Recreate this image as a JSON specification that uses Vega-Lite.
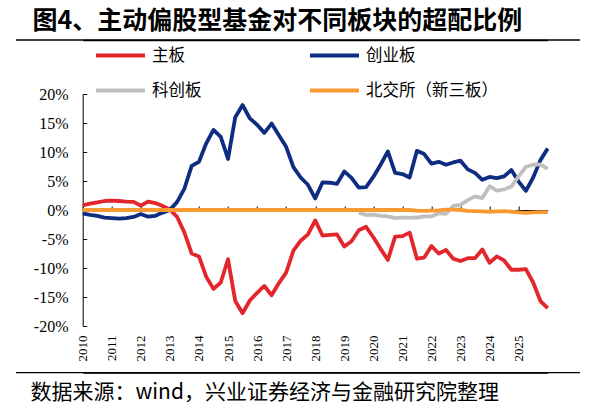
{
  "$schema": "https://vega.github.io/schema/vega-lite/v6.json",
  "autosize": {"type": "none"},
  "width": 465,
  "height": 232,
  "padding": {"left": 82.7, "top": 94, "right": 43.3, "bottom": 86},
  "background": "white",
  "config": {"view": {"stroke": null}, "font": "Noto Sans CJK SC"},
  "datasets": {"main": [
    {"t": 2010, "主板": 0.8, "创业板": -0.6, "北交所（新三板）": 0},
    {"t": 2010.25, "主板": 1.1, "创业板": -0.85, "北交所（新三板）": 0},
    {"t": 2010.5, "主板": 1.3, "创业板": -1.0, "北交所（新三板）": 0},
    {"t": 2010.75, "主板": 1.55, "创业板": -1.3, "北交所（新三板）": 0},
    {"t": 2011, "主板": 1.6, "创业板": -1.4, "北交所（新三板）": 0},
    {"t": 2011.25, "主板": 1.55, "创业板": -1.5, "北交所（新三板）": 0},
    {"t": 2011.5, "主板": 1.45, "创业板": -1.4, "北交所（新三板）": 0},
    {"t": 2011.75, "主板": 1.4, "创业板": -1.2, "北交所（新三板）": 0},
    {"t": 2012, "主板": 0.75, "创业板": -0.7, "北交所（新三板）": 0},
    {"t": 2012.25, "主板": 1.45, "创业板": -1.15, "北交所（新三板）": 0},
    {"t": 2012.5, "主板": 1.2, "创业板": -1.0, "北交所（新三板）": 0},
    {"t": 2012.75, "主板": 0.7, "创业板": -0.45, "北交所（新三板）": 0},
    {"t": 2013, "主板": 0.05, "创业板": 0.0, "北交所（新三板）": 0},
    {"t": 2013.25, "主板": -1.2, "创业板": 1.4, "北交所（新三板）": 0},
    {"t": 2013.5, "主板": -3.9, "创业板": 3.7, "北交所（新三板）": 0},
    {"t": 2013.75, "主板": -7.5, "创业板": 7.6, "北交所（新三板）": 0},
    {"t": 2014, "主板": -8.0, "创业板": 8.3, "北交所（新三板）": 0},
    {"t": 2014.25, "主板": -11.5, "创业板": 11.5, "北交所（新三板）": 0},
    {"t": 2014.5, "主板": -13.6, "创业板": 13.8, "北交所（新三板）": 0},
    {"t": 2014.75, "主板": -12.5, "创业板": 12.6, "北交所（新三板）": 0},
    {"t": 2015, "主板": -8.5, "创业板": 8.8, "北交所（新三板）": 0},
    {"t": 2015.25, "主板": -15.7, "创业板": 16.0, "北交所（新三板）": 0},
    {"t": 2015.5, "主板": -17.8, "创业板": 18.1, "北交所（新三板）": 0},
    {"t": 2015.75, "主板": -15.6, "创业板": 15.8, "北交所（新三板）": 0},
    {"t": 2016, "主板": -14.3, "创业板": 14.7, "北交所（新三板）": 0},
    {"t": 2016.25, "主板": -13.1, "创业板": 13.3, "北交所（新三板）": 0},
    {"t": 2016.5, "主板": -14.7, "创业板": 14.9, "北交所（新三板）": 0},
    {"t": 2016.75, "主板": -12.6, "创业板": 12.9, "北交所（新三板）": 0},
    {"t": 2017, "主板": -10.8, "创业板": 10.9, "北交所（新三板）": 0},
    {"t": 2017.25, "主板": -7.0, "创业板": 7.4, "北交所（新三板）": 0},
    {"t": 2017.5, "主板": -5.3, "创业板": 5.6, "北交所（新三板）": 0},
    {"t": 2017.75, "主板": -4.2, "创业板": 4.35, "北交所（新三板）": 0},
    {"t": 2018, "主板": -1.8, "创业板": 2.0, "北交所（新三板）": 0},
    {"t": 2018.25, "主板": -4.4, "创业板": 4.75, "北交所（新三板）": 0},
    {"t": 2018.5, "主板": -4.3, "创业板": 4.7, "北交所（新三板）": 0},
    {"t": 2018.75, "主板": -4.2, "创业板": 4.5, "北交所（新三板）": 0},
    {"t": 2019, "主板": -6.3, "创业板": 6.65, "北交所（新三板）": 0},
    {"t": 2019.25, "主板": -5.4, "创业板": 5.55, "北交所（新三板）": 0},
    {"t": 2019.5, "主板": -3.5, "创业板": 3.85, "科创板": -0.45, "北交所（新三板）": 0},
    {"t": 2019.75, "主板": -2.9, "创业板": 3.95, "科创板": -0.85, "北交所（新三板）": 0},
    {"t": 2020, "主板": -4.7, "创业板": 5.7, "科创板": -0.8, "北交所（新三板）": 0},
    {"t": 2020.25, "主板": -6.7, "创业板": 7.8, "科创板": -1.0, "北交所（新三板）": 0},
    {"t": 2020.5, "主板": -8.6, "创业板": 10.1, "科创板": -1.1, "北交所（新三板）": 0},
    {"t": 2020.75, "主板": -4.6, "创业板": 6.4, "科创板": -1.4, "北交所（新三板）": 0},
    {"t": 2021, "主板": -4.5, "创业板": 6.2, "科创板": -1.3, "北交所（新三板）": 0},
    {"t": 2021.25, "主板": -3.9, "创业板": 5.6, "科创板": -1.3, "北交所（新三板）": 0},
    {"t": 2021.5, "主板": -8.4, "创业板": 10.2, "科创板": -1.3, "北交所（新三板）": -0.1},
    {"t": 2021.75, "主板": -8.2, "创业板": 9.65, "科创板": -1.1, "北交所（新三板）": -0.15},
    {"t": 2022, "主板": -6.2, "创业板": 8.0, "科创板": -1.1, "北交所（新三板）": -0.1},
    {"t": 2022.25, "主板": -7.5, "创业板": 8.3, "科创板": -0.55, "北交所（新三板）": -0.05},
    {"t": 2022.5, "主板": -6.9, "创业板": 7.8, "科创板": -0.65, "北交所（新三板）": 0.05},
    {"t": 2022.75, "主板": -8.4, "创业板": 8.2, "科创板": 0.7, "北交所（新三板）": 0.05},
    {"t": 2023, "主板": -8.8, "创业板": 8.5, "科创板": 0.9, "北交所（新三板）": 0},
    {"t": 2023.25, "主板": -8.3, "创业板": 7.0, "科创板": 1.7, "北交所（新三板）": -0.15},
    {"t": 2023.5, "主板": -8.3, "创业板": 6.4, "科创板": 2.35, "北交所（新三板）": -0.2},
    {"t": 2023.75, "主板": -6.8, "创业板": 5.2, "科创板": 2.05, "北交所（新三板）": -0.25},
    {"t": 2024, "主板": -9.1, "创业板": 5.7, "科创板": 4.1, "北交所（新三板）": -0.3},
    {"t": 2024.25, "主板": -8.0, "创业板": 5.5, "科创板": 3.35, "北交所（新三板）": -0.25},
    {"t": 2024.5, "主板": -8.7, "创业板": 5.8, "科创板": 3.55, "北交所（新三板）": -0.2},
    {"t": 2024.75, "主板": -10.3, "创业板": 6.9, "科创板": 4.05, "北交所（新三板）": -0.3},
    {"t": 2025, "主板": -10.3, "创业板": 4.9, "科创板": 5.8, "北交所（新三板）": -0.4},
    {"t": 2025.25, "主板": -10.2, "创业板": 3.3, "科创板": 7.45, "北交所（新三板）": -0.5},
    {"t": 2025.5, "主板": -12.5, "创业板": 5.6, "科创板": 7.8, "北交所（新三板）": -0.4},
    {"t": 2025.75, "主板": -15.7, "创业板": 8.6, "科创板": 7.85, "北交所（新三板）": -0.35},
    {"t": 2026, "主板": -16.9, "创业板": 10.6, "科创板": 7.1, "北交所（新三板）": -0.35}
  ]},
  "data": {"name": "main"},
  "resolve": {"axis": {"x": "independent", "y": "independent"}},
  "layer": [
    {
      "transform": [
        {"fold": ["主板", "创业板", "科创板", "北交所（新三板）"], "as": ["板块", "v"]},
        {"filter": "isValid(datum.v)"},
        {"filter": "datum['板块'] !== '北交所（新三板）'"}
      ],
      "mark": {"type": "line", "strokeWidth": 3.8, "strokeJoin": "round"},
      "encoding": {
        "x": {
          "field": "t", "type": "quantitative",
          "scale": {"domain": [2010, 2026], "nice": false, "zero": false},
          "axis": {
            "orient": "bottom",
            "values": [2010, 2011, 2012, 2013, 2014, 2015, 2016, 2017, 2018, 2019, 2020, 2021, 2022, 2023, 2024, 2025],
            "format": "d",
            "labelAngle": 270,
            "labelFont": "Liberation Serif",
            "labelFontSize": 13,
            "labelColor": "black",
            "labelPadding": 9,
            "labelOverlap": false,
            "ticks": false,
            "domain": false,
            "grid": false,
            "title": "数据来源：wind，兴业证券经济与金融研究院整理",
            "titleX": -52.7,
            "titleY": 66,
            "titleAlign": "left",
            "titleAnchor": "start",
            "titleBaseline": "middle",
            "titleAngle": 0,
            "titleFont": "Noto Sans CJK SC",
            "titleFontSize": 21,
            "titleFontWeight": "normal",
            "titleColor": "black"
          }
        },
        "y": {
          "field": "v", "type": "quantitative",
          "scale": {"domain": [-20, 20], "nice": false, "zero": false},
          "axis": {
            "orient": "left",
            "values": [-20, -15, -10, -5, 0, 5, 10, 15, 20],
            "labelExpr": "datum.value + '%'",
            "labelFont": "Liberation Serif",
            "labelFontSize": 16,
            "labelColor": "black",
            "labelPadding": 18.7,
            "tickSize": -4,
            "tickColor": "black",
            "domain": true,
            "domainColor": "black",
            "grid": false,
            "title": "图4、主动偏股型基金对不同板块的超配比例",
            "titleX": -50.7,
            "titleY": -73.5,
            "titleAngle": 0,
            "titleAlign": "left",
            "titleAnchor": "start",
            "titleBaseline": "middle",
            "titleFont": "Noto Sans CJK SC",
            "titleFontSize": 25,
            "titleFontWeight": "bold",
            "titleColor": "black"
          }
        },
        "color": {
          "field": "板块", "type": "nominal",
          "scale": {"domain": ["主板", "创业板", "科创板", "北交所（新三板）"], "range": ["#E3262B", "#0F2D80", "#BFBFBF", "#F79A32"]},
          "legend": {
            "orient": "none",
            "direction": "horizontal",
            "legendX": 11.3,
            "legendY": -65,
            "columns": 2,
            "title": null,
            "symbolType": "stroke",
            "symbolStrokeWidth": 4,
            "symbolSize": 2401,
            "labelOffset": 5,
            "labelFont": "Noto Sans CJK SC",
            "labelFontSize": 16.5,
            "labelColor": "black",
            "columnPadding": 100,
            "rowPadding": -10
          }
        }
      }
    },
    {
      "transform": [
        {"fold": ["主板", "创业板", "科创板", "北交所（新三板）"], "as": ["板块", "v"]},
        {"filter": "isValid(datum.v)"},
        {"filter": "datum['板块'] === '北交所（新三板）'"}
      ],
      "mark": {"type": "line", "strokeWidth": 3.8, "strokeJoin": "round"},
      "encoding": {
        "x": {
          "field": "t", "type": "quantitative",
          "axis": {
            "orient": "top",
            "offset": -116,
            "values": [2010, 2011, 2012, 2013, 2014, 2015, 2016, 2017, 2018, 2019, 2020, 2021, 2022, 2023, 2024, 2025],
            "labels": false,
            "ticks": true,
            "tickSize": 4,
            "tickColor": "black",
            "domain": true,
            "domainColor": "black",
            "grid": false,
            "title": null
          }
        },
        "y": {"field": "v", "type": "quantitative", "axis": null},
        "color": {"field": "板块", "type": "nominal"}
      }
    },
    {
      "transform": [{"filter": "datum.t === 2010"}],
      "mark": {"type": "rule", "color": "black", "strokeWidth": 1.3, "clip": false},
      "encoding": {
        "x": {
          "datum": 2007.705, "type": "quantitative",
          "axis": {"orient": "top", "offset": 54, "labels": false, "ticks": false, "domain": true, "domainColor": "black", "domainWidth": 1.3, "grid": false, "title": null}
        },
        "x2": {"datum": 2027.111},
        "y": {"datum": 29.31, "type": "quantitative", "axis": null}
      }
    },
    {
      "transform": [{"filter": "datum.t === 2010"}],
      "mark": {"type": "rule", "color": "black", "strokeWidth": 1.3, "clip": false},
      "encoding": {
        "x": {
          "datum": 2007.705, "type": "quantitative",
          "axis": {"orient": "bottom", "offset": 46.7, "labels": false, "ticks": false, "domain": true, "domainColor": "black", "domainWidth": 1.3, "grid": false, "title": null}
        },
        "x2": {"datum": 2027.111},
        "y": {"datum": -28.05, "type": "quantitative", "axis": null}
      }
    }
  ]
}
